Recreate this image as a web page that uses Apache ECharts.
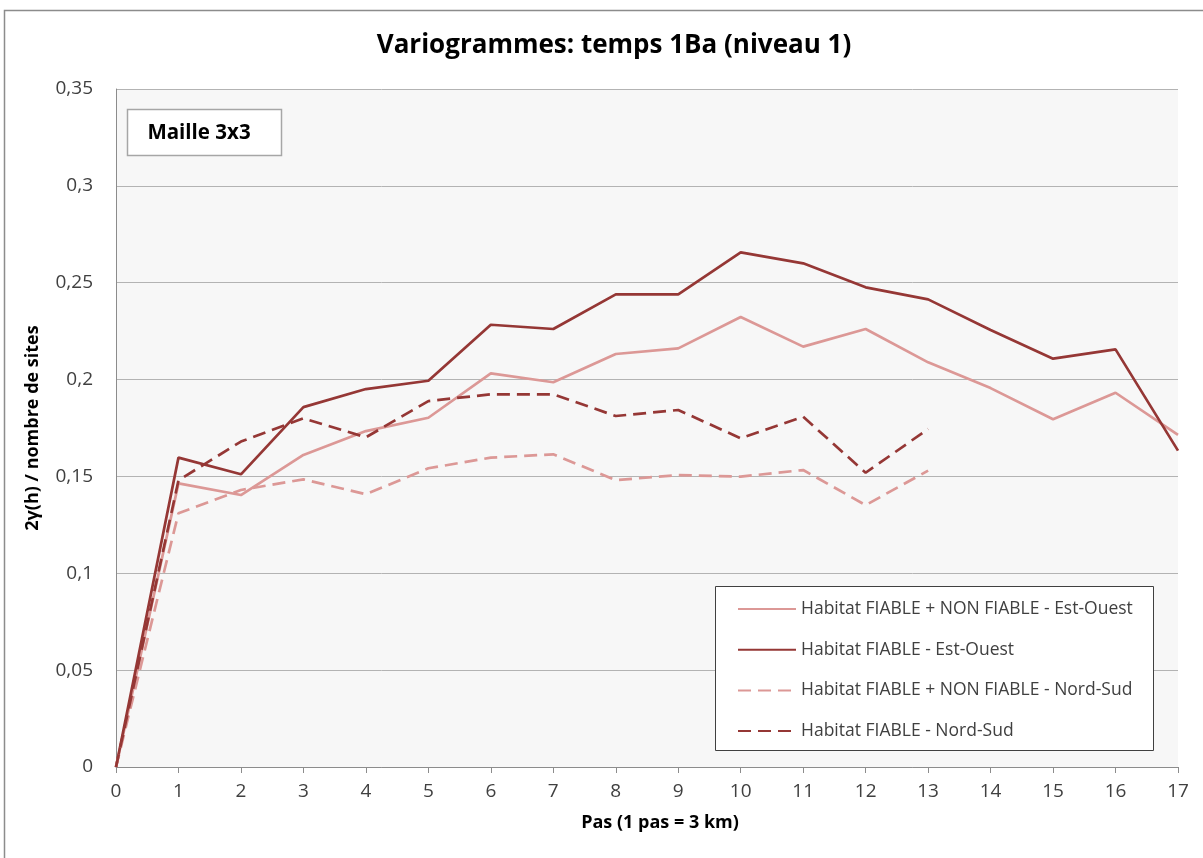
<!DOCTYPE html>
<html>
<head>
<meta charset="utf-8">
<script src="https://cdn.jsdelivr.net/npm/echarts@6/dist/echarts.min.js"></script>
<style>
  html, body { margin: 0; padding: 0; background: #ffffff; }
  #chart { width: 1203px; height: 858px; }
</style>
</head>
<body>
<div id="chart"></div>
<script>
// Lag steps (1 pas = 3 km)
const steps = [0, 1, 2, 3, 4, 5, 6, 7, 8, 9, 10, 11, 12, 13, 14, 15, 16, 17];

// Variogram values 2γ(h) / nombre de sites
const fiableNonFiableEO = [0, 0.1464, 0.1404, 0.1611, 0.1734, 0.1803, 0.2032, 0.1986, 0.2132, 0.2161,
                           0.2323, 0.2170, 0.2261, 0.2089, 0.1956, 0.1795, 0.1932, 0.1714];
const fiableEO = [0, 0.1597, 0.1511, 0.1858, 0.1951, 0.1994, 0.2283, 0.2261, 0.2440, 0.2440,
                  0.2657, 0.2600, 0.2476, 0.2414, 0.2256, 0.2108, 0.2156, 0.1633];
const fiableNonFiableNS = [0, 0.1310, 0.1430, 0.1485, 0.1408, 0.1542, 0.1597, 0.1614, 0.1481, 0.1507,
                           0.1499, 0.1533, 0.1352, 0.1530];
const fiableNS = [0, 0.1480, 0.1680, 0.1800, 0.1702, 0.1889, 0.1924, 0.1924, 0.1812, 0.1843,
                  0.1697, 0.1808, 0.1519, 0.1745];

const seriesNames = [
  'Habitat FIABLE + NON FIABLE - Est-Ouest',
  'Habitat FIABLE - Est-Ouest',
  'Habitat FIABLE + NON FIABLE - Nord-Sud',
  'Habitat FIABLE - Nord-Sud'
];

const yTicks = [0, 0.05, 0.1, 0.15, 0.2, 0.25, 0.3, 0.35];

const LIGHT = '#dc9896';
const DARK = '#953735';
const FONT = '"Open Sans", "Noto Sans", sans-serif';

function pairs(values) {
  return values.map((v, i) => [steps[i], v]);
}

function lineSeries(name, values, color, dashed) {
  return {
    name: name,
    type: 'line',
    data: pairs(values),
    symbol: 'none',
    showSymbol: false,
    smooth: false,
    lineStyle: { color: color, width: 2.7, type: dashed ? [13, 7] : 'solid' },
    itemStyle: { color: color },
    emphasis: { disabled: true },
    animation: false
  };
}

const chart = echarts.init(document.getElementById('chart'), null, { renderer: 'canvas' });

chart.setOption({
  backgroundColor: '#ffffff',
  animation: false,
  textStyle: { fontFamily: FONT },
  title: {
    text: 'Variogrammes: temps 1Ba (niveau 1)',
    left: 609,
    textAlign: 'center',
    top: 28,
    textStyle: { fontFamily: FONT, fontSize: 26, fontWeight: 'bold', color: '#000000' }
  },
  grid: { left: 116, right: 25, top: 89, bottom: 91, show: true, backgroundColor: '#f7f7f7', borderWidth: 0 },
  xAxis: {
    type: 'value',
    min: 0,
    max: 17,
    interval: 1,
    name: 'Pas (1 pas = 3 km)',
    nameLocation: 'middle',
    nameGap: 47,
    nameTextStyle: { fontFamily: FONT, fontSize: 18, fontWeight: 'bold', color: '#000000', padding: [0, 0, 0, 26] },
    axisLine: { show: true, lineStyle: { color: '#8c8c8c', width: 1 } },
    axisTick: { show: true, length: 6, lineStyle: { color: '#8c8c8c' } },
    axisLabel: { fontFamily: FONT, fontSize: 19, color: '#404040', margin: 15 },
    splitLine: { show: false }
  },
  yAxis: {
    type: 'value',
    min: 0,
    max: 0.35,
    interval: 0.05,
    name: '2γ(h) / nombre de sites',
    nameLocation: 'middle',
    nameGap: 74,
    nameRotate: 90,
    nameTextStyle: { fontFamily: FONT, fontSize: 18, fontWeight: 'bold', color: '#000000' },
    axisLine: { show: true, lineStyle: { color: '#8c8c8c', width: 1 } },
    axisTick: { show: false },
    axisLabel: {
      fontFamily: FONT, fontSize: 19, color: '#404040', margin: 23,
      formatter: function (v) {
        const t = yTicks.find(k => Math.abs(k - v) < 1e-9);
        return String(t === undefined ? v : t).replace('.', ',');
      }
    },
    splitLine: { show: true, lineStyle: { color: '#b3b3b3', width: 1 } }
  },
  legend: {
    orient: 'vertical',
    left: 732,
    top: 594,
    itemWidth: 58,
    itemHeight: 14,
    itemGap: 20.7,
    data: seriesNames,
    itemStyle: { opacity: 0 },
    textStyle: { fontFamily: FONT, fontSize: 17.5, lineHeight: 20, color: '#404040' },
    selectedMode: false,
    z: 10
  },
  graphic: [
    {
      type: 'rect',
      shape: { x: 715.5, y: 586.5, width: 438, height: 164 },
      style: { fill: '#ffffff', stroke: '#404040', lineWidth: 1 },
      z: 5
    },
    {
      type: 'rect',
      shape: { x: 127.5, y: 109.5, width: 154, height: 46 },
      style: { fill: '#ffffff', stroke: '#a6a6a6', lineWidth: 1.5 },
      z: 5
    },
    {
      type: 'text',
      x: 199, y: 133,
      style: {
        text: 'Maille 3x3', fontFamily: FONT, fontSize: 20.5, fontWeight: 'bold', fill: '#000000',
        align: 'center', verticalAlign: 'middle'
      },
      z: 6
    },
    {
      type: 'rect',
      shape: { x: 4.5, y: 10.5, width: 1210, height: 860 },
      style: { fill: 'none', stroke: '#8c8c8c', lineWidth: 1.5 },
      z: 1,
      silent: true
    }
  ],
  series: [
    lineSeries(seriesNames[0], fiableNonFiableEO, LIGHT, false),
    lineSeries(seriesNames[1], fiableEO, DARK, false),
    lineSeries(seriesNames[2], fiableNonFiableNS, LIGHT, true),
    lineSeries(seriesNames[3], fiableNS, DARK, true)
  ]
});
</script>
</body>
</html>
